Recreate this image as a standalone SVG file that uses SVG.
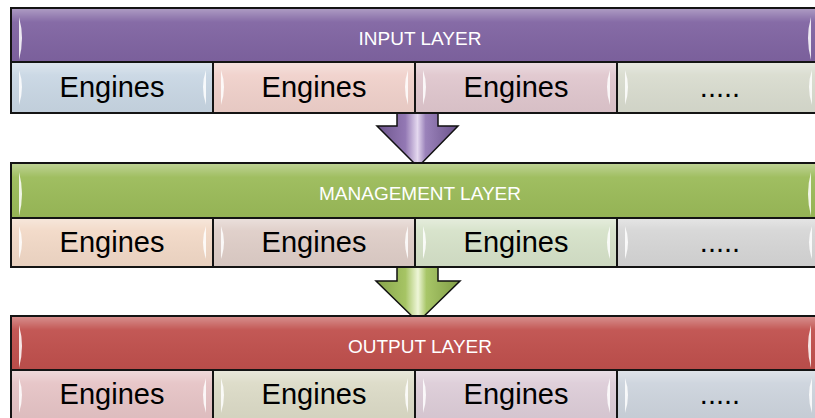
<svg xmlns="http://www.w3.org/2000/svg" width="815" height="418" viewBox="0 0 815 418">
<defs>
<style>
.frame{stroke:#141414;stroke-width:2}
.hdr{font-family:"Liberation Sans",Arial,sans-serif;font-size:19px;fill:#fff;text-anchor:middle}
.eng{font-family:"Liberation Sans",Arial,sans-serif;font-size:29px;fill:#000;text-anchor:middle}
.bev{fill:#fff;opacity:.85}
.arrow{stroke:#111;stroke-width:1.5;stroke-linejoin:miter}
</style>
<linearGradient id="gloss" x1="0" y1="0" x2="0" y2="1">
<stop offset="0" stop-color="#fff" stop-opacity=".35"/>
<stop offset=".25" stop-color="#fff" stop-opacity=".05"/>
<stop offset="1" stop-color="#000" stop-opacity=".04"/>
</linearGradient>
<linearGradient id="ap" x1="0" y1="0" x2="1" y2="0">
<stop offset="0" stop-color="#6c548c"/>
<stop offset=".35" stop-color="#9378b4"/>
<stop offset=".5" stop-color="#e4d8ef"/>
<stop offset=".6" stop-color="#9a82ba"/>
<stop offset="1" stop-color="#6a528a"/>
</linearGradient>
<linearGradient id="ag" x1="0" y1="0" x2="1" y2="0">
<stop offset="0" stop-color="#86a44a"/>
<stop offset=".35" stop-color="#a6c464"/>
<stop offset=".5" stop-color="#eef6d8"/>
<stop offset=".6" stop-color="#a8c668"/>
<stop offset="1" stop-color="#7f9c44"/>
</linearGradient>
</defs>
<rect width="815" height="418" fill="#fff"/>

<g id="connectors">
<polygon class="arrow" fill="url(#ap)" points="397,113 438,113 438,126 458,126 418,167 377,126 397,126"/>
<polygon class="arrow" fill="url(#ag)" points="397,267 438,267 438,281 460,281 418,322 376,281 397,281"/>
</g>

<g id="input-layer">
<g id="input-header">
<rect class="frame" x="11" y="8" width="808" height="54" fill="#8064a2"/>
<rect x="12" y="9" width="806" height="52" fill="url(#gloss)"/>
<path class="bev" d="M19,17 Q25,38 19,60 Z" opacity=".6"/>
<path class="bev" d="M811,17 Q805,38 811,60 Z" opacity=".6"/>
<text class="hdr" x="420" y="45">INPUT LAYER</text>
</g>
<g id="input-e1">
<rect class="frame" x="11" y="62" width="202" height="51" fill="#c9d7e4"/>
<rect x="12" y="63" width="200" height="49" fill="url(#gloss)"/>
<path class="bev" d="M19,70 Q25,87 19,105 Z"/><path class="bev" d="M206,70 Q200,87 206,105 Z"/>
<text class="eng" x="112" y="97">Engines</text>
</g>
<g id="input-e2">
<rect class="frame" x="213" y="62" width="202" height="51" fill="#f0d1cb"/>
<rect x="214" y="63" width="200" height="49" fill="url(#gloss)"/>
<path class="bev" d="M221,70 Q227,87 221,105 Z"/><path class="bev" d="M408,70 Q402,87 408,105 Z"/>
<text class="eng" x="314" y="97">Engines</text>
</g>
<g id="input-e3">
<rect class="frame" x="415" y="62" width="202" height="51" fill="#e0c7ce"/>
<rect x="416" y="63" width="200" height="49" fill="url(#gloss)"/>
<path class="bev" d="M423,70 Q429,87 423,105 Z"/><path class="bev" d="M610,70 Q604,87 610,105 Z"/>
<text class="eng" x="516" y="97">Engines</text>
</g>
<g id="input-e4">
<rect class="frame" x="617" y="62" width="202" height="51" fill="#d9dccf"/>
<rect x="618" y="63" width="200" height="49" fill="url(#gloss)"/>
<path class="bev" d="M625,70 Q631,87 625,105 Z"/><path class="bev" d="M812,70 Q806,87 812,105 Z"/>
<text class="eng" x="720" y="97">.....</text>
</g>
</g>

<g id="management-layer">
<g id="management-header">
<rect class="frame" x="11" y="163" width="808" height="55" fill="#9bbb59"/>
<rect x="12" y="164" width="806" height="53" fill="url(#gloss)"/>
<path class="bev" d="M19,172 Q25,194 19,216 Z" opacity=".6"/>
<path class="bev" d="M811,172 Q805,194 811,216 Z" opacity=".6"/>
<text class="hdr" x="420" y="200">MANAGEMENT LAYER</text>
</g>
<g id="management-e1">
<rect class="frame" x="11" y="218" width="202" height="49" fill="#f2d9c7"/>
<rect x="12" y="219" width="200" height="47" fill="url(#gloss)"/>
<path class="bev" d="M19,226 Q25,242 19,259 Z"/><path class="bev" d="M206,226 Q200,242 206,259 Z"/>
<text class="eng" x="112" y="252">Engines</text>
</g>
<g id="management-e2">
<rect class="frame" x="213" y="218" width="202" height="49" fill="#dfcec8"/>
<rect x="214" y="219" width="200" height="47" fill="url(#gloss)"/>
<path class="bev" d="M221,226 Q227,242 221,259 Z"/><path class="bev" d="M408,226 Q402,242 408,259 Z"/>
<text class="eng" x="314" y="252">Engines</text>
</g>
<g id="management-e3">
<rect class="frame" x="415" y="218" width="202" height="49" fill="#d6e2c9"/>
<rect x="416" y="219" width="200" height="47" fill="url(#gloss)"/>
<path class="bev" d="M423,226 Q429,242 423,259 Z"/><path class="bev" d="M610,226 Q604,242 610,259 Z"/>
<text class="eng" x="516" y="252">Engines</text>
</g>
<g id="management-e4">
<rect class="frame" x="617" y="218" width="202" height="49" fill="#d6d6d6"/>
<rect x="618" y="219" width="200" height="47" fill="url(#gloss)"/>
<path class="bev" d="M625,226 Q631,242 625,259 Z"/><path class="bev" d="M812,226 Q806,242 812,259 Z"/>
<text class="eng" x="720" y="252">.....</text>
</g>
</g>

<g id="output-layer">
<g id="output-header">
<rect class="frame" x="11" y="316" width="808" height="54" fill="#c0504d"/>
<rect x="12" y="317" width="806" height="52" fill="url(#gloss)"/>
<path class="bev" d="M19,325 Q25,346 19,368 Z" opacity=".6"/>
<path class="bev" d="M811,325 Q805,346 811,368 Z" opacity=".6"/>
<text class="hdr" x="420" y="353">OUTPUT LAYER</text>
</g>
<g id="output-e1">
<rect class="frame" x="11" y="370" width="202" height="51" fill="#e6c4c6"/>
<rect x="12" y="371" width="200" height="49" fill="url(#gloss)"/>
<path class="bev" d="M19,378 Q25,395 19,413 Z"/><path class="bev" d="M206,378 Q200,395 206,413 Z"/>
<text class="eng" x="112" y="404">Engines</text>
</g>
<g id="output-e2">
<rect class="frame" x="213" y="370" width="202" height="51" fill="#dcdbc7"/>
<rect x="214" y="371" width="200" height="49" fill="url(#gloss)"/>
<path class="bev" d="M221,378 Q227,395 221,413 Z"/><path class="bev" d="M408,378 Q402,395 408,413 Z"/>
<text class="eng" x="314" y="404">Engines</text>
</g>
<g id="output-e3">
<rect class="frame" x="415" y="370" width="202" height="51" fill="#ddcdd8"/>
<rect x="416" y="371" width="200" height="49" fill="url(#gloss)"/>
<path class="bev" d="M423,378 Q429,395 423,413 Z"/><path class="bev" d="M610,378 Q604,395 610,413 Z"/>
<text class="eng" x="516" y="404">Engines</text>
</g>
<g id="output-e4">
<rect class="frame" x="617" y="370" width="202" height="51" fill="#cdd4dd"/>
<rect x="618" y="371" width="200" height="49" fill="url(#gloss)"/>
<path class="bev" d="M625,378 Q631,395 625,413 Z"/><path class="bev" d="M812,378 Q806,395 812,413 Z"/>
<text class="eng" x="720" y="404">.....</text>
</g>
</g>
</svg>
